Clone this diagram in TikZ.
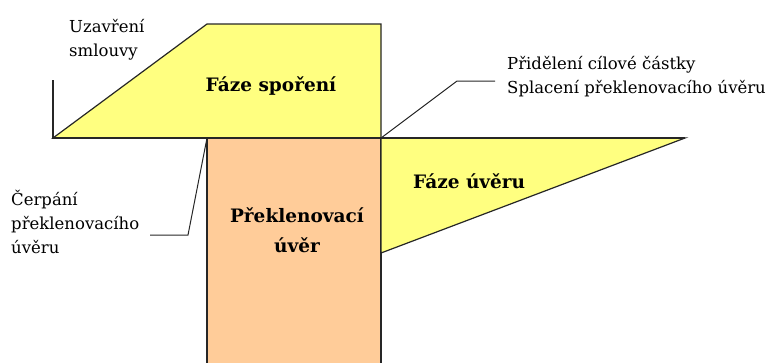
\documentclass[tikz,border=0pt]{standalone}
\usepackage{fontspec}
\setmainfont{DejaVu Serif}
\definecolor{phaseyellow}{HTML}{FFFF80}
\definecolor{bridgeorange}{HTML}{FFCC99}
\tikzset{
  outline/.style={draw=black!85,line width=1.2pt,line join=miter},
  leader/.style={draw=black!85,line width=1pt},
  note/.style={font=\fontsize{16.5}{24}\selectfont,align=left,inner sep=0pt},
  phase/.style={font=\fontsize{18.5}{30}\selectfont\bfseries,align=center,inner sep=0pt}
}
\begin{document}
\begin{tikzpicture}[x=1pt,y=-1pt]
  \useasboundingbox (0,0) rectangle (775,362);

  % Points of the axes
  \coordinate (start) at (53,138);
  \coordinate (axistop) at (53,80);
  \coordinate (axisend) at (685,138);
  \coordinate (allot) at (381,138);
  \coordinate (draw) at (207,138);

  % Bridging loan
  \fill[bridgeorange] (draw) rectangle (381,366);
  \draw[outline] (207,366) -- (draw) -- (allot) -- (381,366);

  % Saving phase
  \draw[outline,fill=phaseyellow] (start) -- (207,24) -- (381,24) -- (allot) -- cycle;

  % Loan phase
  \draw[outline,fill=phaseyellow] (allot) -- (axisend) -- (381,253) -- cycle;

  % Axes
  \draw[outline] (axistop) -- (start) -- (axisend);

  % Phase labels
  \node[phase] (saving) at (271,86) {Fáze spoření};
  \node[phase,anchor=west] (loan) at (413,181) {Fáze úvěru};
  \node[phase] (bridge) at (297,230) {Překlenovací\\úvěr};

  % Notes
  \node[note,anchor=west] (contract) at (69,40) {Uzavření\\smlouvy};
  \node[note,anchor=west] (allotnote) at (507,77) {Přidělení cílové částky\\Splacení překlenovacího úvěru};
  \node[note,anchor=west] (drawnote) at (11,222) {Čerpání\\překlenovacího\\úvěru};

  % Leaders
  \coordinate (allotbend) at (457,81);
  \coordinate (allotend) at (495,81);
  \coordinate (drawbend) at (188,235);
  \coordinate (drawend) at (150,235);
  \draw[leader] (allot) -- (allotbend) -- (allotend);
  \draw[leader] (draw) -- (drawbend) -- (drawend);
\end{tikzpicture}
\end{document}
